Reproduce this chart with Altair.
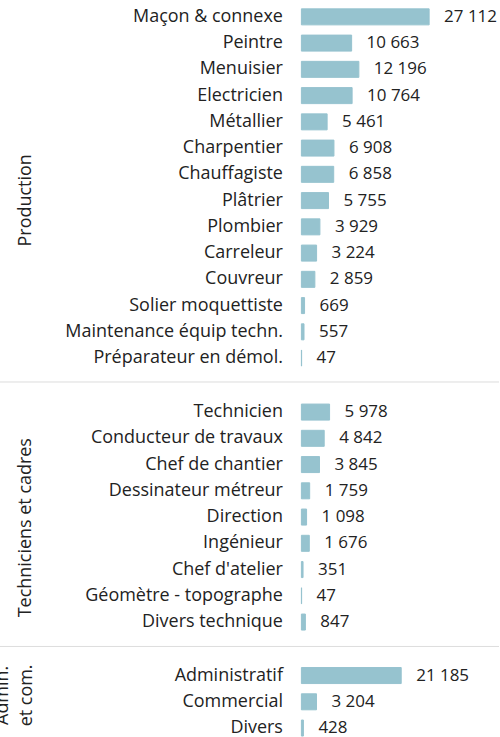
import altair as alt
import pandas as pd

# ---- data -------------------------------------------------------------
prod_names = ["Maçon & connexe", "Peintre", "Menuisier", "Electricien", "Métallier",
              "Charpentier", "Chauffagiste", "Plâtrier", "Plombier", "Carreleur",
              "Couvreur", "Solier moquettiste", "Maintenance équip techn.",
              "Préparateur en démol."]
prod_values = [27112, 10663, 12196, 10764, 5461, 6908, 6858, 5755, 3929, 3224,
               2859, 669, 557, 47]

tech_names = ["Technicien", "Conducteur de travaux", "Chef de chantier",
              "Dessinateur métreur", "Direction", "Ingénieur", "Chef d'atelier",
              "Géomètre - topographe", "Divers technique"]
tech_values = [5978, 4842, 3845, 1759, 1098, 1676, 351, 47, 847]

adm_names = ["Administratif", "Commercial", "Divers"]
adm_values = [21185, 3204, 428]

group_titles = ["Production", "Techniciens et cadres", "Admin.\net com."]

# ---- style ------------------------------------------------------------
BAR = "#96c3cf"
TEXT = "#222222"
SEP = "#dddddd"
FONT = "Open Sans"
STEP = 26.3
PLOT_W = 128
XMAX = max(prod_values + tech_values + adm_values)


def panel(names, values, title, title_x, title_y, sep_y=None):
    df = pd.DataFrame({"metier": names, "valeur": values})
    y = alt.Y("metier:N", sort=names, title=None,
              scale=alt.Scale(paddingInner=0.39, paddingOuter=0.195),
              axis=alt.Axis(ticks=False, domain=False, labelPadding=19,
                            labelFontSize=18, labelColor=TEXT, labelFont=FONT,
                            labelLimit=400, grid=False))
    x = alt.X("valeur:Q", scale=alt.Scale(domain=[0, XMAX], nice=False), axis=None)
    base = alt.Chart(df).encode(y=y, x=x)
    bars = base.mark_bar(color=BAR, stroke=BAR, strokeWidth=1)
    labels = base.transform_calculate(
        lbl="replace(format(datum.valeur, ','), ',', ' ')"
    ).mark_text(align="left", baseline="middle", dx=15, fontSize=17,
                color=TEXT, font=FONT).encode(text="lbl:N")
    tdf = pd.DataFrame({"groupe": [title]})
    ttl = alt.Chart(tdf).mark_text(
        angle=270, align="center", baseline="bottom", lineBreak="\n",
        lineHeight=24, fontSize=18, font=FONT, color=TEXT
    ).encode(text="groupe:N", x=alt.value(title_x), y=alt.value(title_y))
    layers = [bars, labels, ttl]
    if sep_y is not None:
        sep = alt.Chart(tdf).mark_rule(color=SEP, strokeWidth=1).encode(
            x=alt.value(-302), x2=alt.value(198), y=alt.value(sep_y))
        layers.insert(0, sep)
    return alt.layer(*layers).properties(width=PLOT_W, height=alt.Step(STEP))


p1 = panel(prod_names, prod_values, group_titles[0], -267, 197)
p2 = panel(tech_names, tech_values, group_titles[1], -267, 129, -17)
p3 = panel(adm_names, adm_values, group_titles[2], -290, 33, -16)

chart = alt.vconcat(p1, p2, p3, spacing=27, bounds="flush").resolve_scale(
    y="independent"
).properties(
    padding={"left": -6, "top": 3, "right": 0, "bottom": 5}
).configure(font=FONT, background="white").configure_view(stroke=None)

chart.save("out.html", embed_options={"renderer": "svg", "actions": False})
